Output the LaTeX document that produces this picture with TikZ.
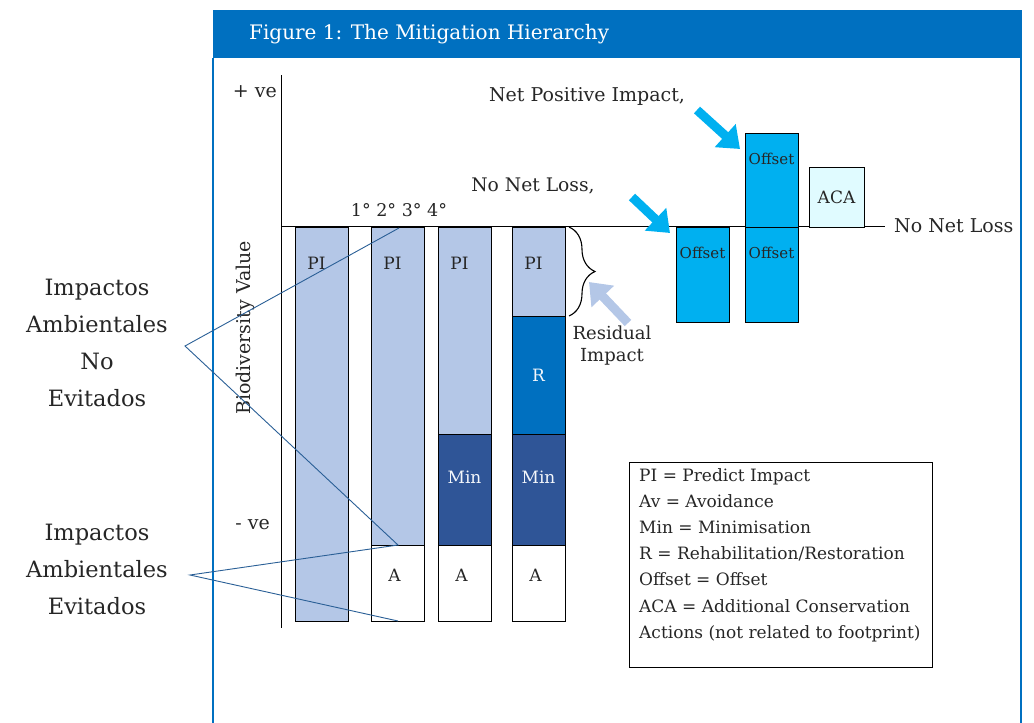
\documentclass[tikz,border=0pt]{standalone}
\usepackage{fontspec}
\setmainfont{DejaVu Serif}
\usetikzlibrary{arrows.meta,positioning,calc,decorations.pathreplacing}
\definecolor{headblue}{HTML}{0070C0}
\definecolor{pilight}{HTML}{B4C7E7}
\definecolor{rblue}{HTML}{0070C0}
\definecolor{minblue}{HTML}{2F5597}
\definecolor{offcyan}{HTML}{00B0F0}
\definecolor{acacyan}{HTML}{E0FBFF}
\definecolor{linkblue}{HTML}{2A5F96}
\definecolor{textgray}{HTML}{262626}

\begin{document}
\begin{tikzpicture}[x=1pt,y=-1pt,
  seg/.style={draw=black,line width=1pt,anchor=north west,inner sep=0pt,outer sep=0pt,minimum width=53pt},
  lbl/.style={inner sep=0pt,font=\fontsize{17}{20}\selectfont,text=textgray},
  big/.style={align=center,inner sep=0pt,font=\fontsize{22.5}{37}\selectfont,text=textgray},
  note/.style={inner sep=0pt,font=\fontsize{19}{22}\selectfont,text=textgray},
  fat/.style={line width=9pt,-{Triangle[length=20pt,width=30pt]}},
  link/.style={draw=linkblue,line width=0.9pt}]
\useasboundingbox (0,0) rectangle (1034,723);
% frame and title
\fill[headblue] (213,10) rectangle (1022,58);
\draw[headblue,line width=1.5pt] (213,58) -- (213,723) (1021,58) -- (1021,723);
\node[anchor=west,inner sep=0pt,text=white,font=\fontsize{20}{24}\selectfont] (title) at (249,34) {Figure 1: The Mitigation Hierarchy};
% axes
\draw[line width=1pt] (281,75) -- (281,628);
\draw[line width=1pt] (281,226) -- (885,226);
\node[note,anchor=east] (plus) at (277,92) {+ ve};
\node[note,anchor=east] (minus) at (270,525) {- ve};
\node[note,rotate=90] (yaxis) at (245,328) {Biodiversity Value};
\node[note,anchor=west] (nnl) at (894,226) {No Net Loss};
\node[lbl,font=\fontsize{17.5}{20}\selectfont] (order) at (399,210) {1° 2° 3° 4°};
% bars
\node[seg,fill=pilight,minimum height=394pt] (pi1) at (295,227) {};
\node[seg,fill=pilight,minimum height=318pt] (pi2) at (371,227) {};
\node[seg,fill=white,minimum height=76pt] (a2) at (371,545) {};
\node[seg,fill=pilight,minimum height=207pt] (pi3) at (438,227) {};
\node[seg,fill=minblue,minimum height=111pt] (min3) at (438,434) {};
\node[seg,fill=white,minimum height=76pt] (a3) at (438,545) {};
\node[seg,fill=pilight,minimum height=89pt] (pi4) at (512,227) {};
\node[seg,fill=rblue,minimum height=118pt] (r4) at (512,316) {};
\node[seg,fill=minblue,minimum height=111pt] (min4) at (512,434) {};
\node[seg,fill=white,minimum height=76pt] (a4) at (512,545) {};
\foreach \b in {1,2,3,4}
  \node[lbl] (pil\b) at ($(pi\b.north)+(-5,36)$) {PI};
\foreach \b in {2,3,4}
  \node[lbl] (al\b) at ($(a\b.north)+(-3,30)$) {A};
\foreach \b in {3,4}
  \node[lbl,text=white!85!pilight] (minl\b) at ($(min\b.north)+(0,43)$) {Min};
\node[lbl,text=white!85!pilight] (rl4) at (r4.center) {R};
% offsets
\node[seg,fill=offcyan,minimum height=95pt] (off1) at (676,227) {};
\node[seg,fill=offcyan,minimum height=95pt] (off2) at (745,227) {};
\node[seg,fill=offcyan,minimum height=94pt] (off3) at (745,133) {};
\node[seg,fill=acacyan,minimum height=60pt,minimum width=55pt] (aca) at (809,167) {};
\foreach \o in {1,2,3}
  \node[lbl,font=\fontsize{15}{18}\selectfont] (offl\o) at ($(off\o.north)+(0,26)$) {Offset};
\node[lbl] (acal) at (aca.center) {ACA};
% residual impact
\draw[decorate,decoration={brace,amplitude=26pt},line width=1.1pt] ($(pi4.north east)+(4,0)$) -- ($(pi4.south east)+(4,0)$);
\coordinate (resfrom) at (628,323);
\coordinate (resto) at (589,282);
\draw[fat,pilight] (resfrom) -- (resto);
\node[note,align=center,font=\fontsize{18}{22}\selectfont] (resid) at (612,346) {Residual\\Impact};
% targets
\node[note,font=\fontsize{18.7}{22}\selectfont] (nnltxt) at (533,186) {No Net Loss,};
\node[note,font=\fontsize{19}{22}\selectfont] (npitxt) at (587,96) {Net Positive Impact,};
\coordinate (nnlfrom) at (632,197);
\draw[fat,offcyan] (nnlfrom) -- ($(off1.north west)+(-6,6)$);
\coordinate (npifrom) at (697,110);
\draw[fat,offcyan] (npifrom) -- ($(off3.north west)+(-5,16)$);
% legend
\node[draw=black,line width=1pt,anchor=north west,minimum width=303pt,minimum height=205pt,inner sep=0pt] (legend) at (629,462) {};
\node[note,anchor=north west,align=left,font=\fontsize{17}{26.2}\selectfont] (legtxt) at (639,468) {PI = Predict Impact\\Av = Avoidance\\Min = Minimisation\\R = Rehabilitation/Restoration\\Offset = Offset\\ACA = Additional Conservation\\Actions (not related to footprint)};
% side notes
\node[big] (noevit) at (97,343) {Impactos\\Ambientales\\No\\Evitados};
\node[big] (evit) at (97,569) {Impactos\\Ambientales\\Evitados};
\coordinate (apexno) at (185,346);
\coordinate (apexev) at (190,575);
\draw[link] ($(pi2.north west)+(28,1)$) -- (apexno) -- ($(a2.north west)+(27,0)$) -- (apexev) -- ($(a2.south west)+(27,0)$);
\end{tikzpicture}
\end{document}
